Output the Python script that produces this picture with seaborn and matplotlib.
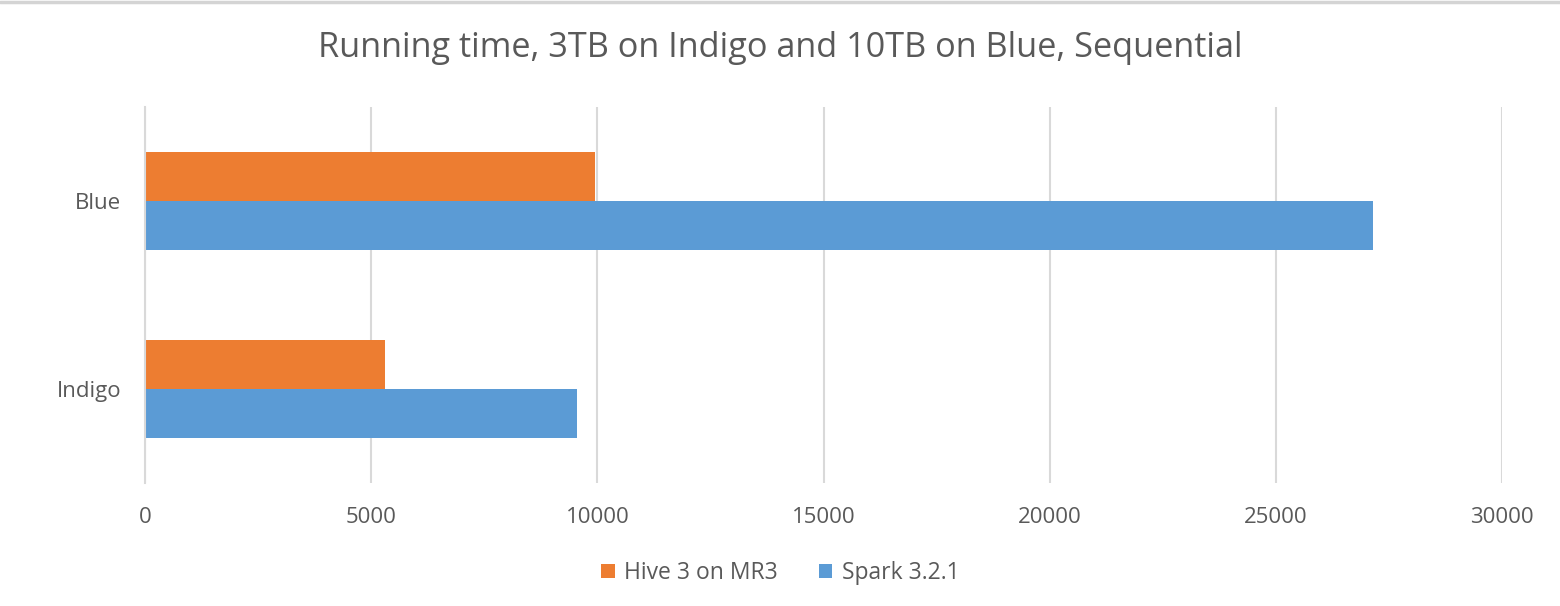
import matplotlib
matplotlib.use("Agg")
import matplotlib.pyplot as plt
import seaborn as sns
import pandas as pd
from matplotlib.lines import Line2D
from matplotlib.patches import Patch

clusters = ["Blue", "Indigo"]
series = ["Hive 3 on MR3", "Spark 3.2.1"]
hive_values = [9940, 5310]
spark_values = [27140, 9545]
x_ticks = [0, 5000, 10000, 15000, 20000, 25000, 30000]
title = "Running time, 3TB on Indigo and 10TB on Blue, Sequential"

colors = {"Hive 3 on MR3": "#ED7D31", "Spark 3.2.1": "#5B9BD5"}
text_color = "#595959"
grid_color = "#D9D9D9"

df = pd.DataFrame({
    "cluster": clusters * 2,
    "series": [series[0]] * len(clusters) + [series[1]] * len(clusters),
    "time": hive_values + spark_values,
})

sns.set_theme(style="white")
plt.rcParams["font.family"] = ["Open Sans", "DejaVu Sans"]

fig = plt.figure(figsize=(15.6, 6.06), dpi=100)
ax = fig.add_axes([145 / 1560, 1 - 483 / 606, (1502 - 145) / 1560, (483 - 107) / 606])

sns.barplot(data=df, y="cluster", x="time", hue="series", order=clusters,
            hue_order=series, palette=colors, orient="h", width=0.52,
            saturation=1, ax=ax, legend=False, edgecolor="none")

ax.set_xlim(0, 30000)
ax.set_ylim(1.5, -0.5)
ax.set_xticks(x_ticks)
ax.set_xticklabels([str(t) for t in x_ticks])
ax.xaxis.grid(True, color=grid_color, linewidth=1.5)
ax.yaxis.grid(False)
ax.set_axisbelow(True)
for s in ["top", "right", "bottom"]:
    ax.spines[s].set_visible(False)
ax.spines["left"].set_color(grid_color)
ax.spines["left"].set_linewidth(1.5)
ax.tick_params(axis="both", length=0, labelsize=16, colors=text_color)
ax.tick_params(axis="y", pad=17)
ax.tick_params(axis="x", pad=17)
ax.set_xlabel("")
ax.set_ylabel("")

fig.text(0.5, 1 - 48 / 606, title, ha="center", va="center", fontsize=24.7, color=text_color)

handles = [Patch(facecolor=colors[s], edgecolor="none", label=s) for s in series]
fig.legend(handles=handles, loc="center", bbox_to_anchor=(0.5, 1 - 573 / 606), ncol=2,
           frameon=False, fontsize=16.5, labelcolor=text_color, handlelength=0.6,
           handleheight=0.6, handletextpad=0.4, columnspacing=1.8)

# thin spreadsheet border at top
fig.add_artist(Line2D([0, 1], [1 - 1.5 / 606, 1 - 1.5 / 606], transform=fig.transFigure,
                      color="#D4D4D4", linewidth=2.5))

fig.savefig("out.png", dpi=100, facecolor="white")
